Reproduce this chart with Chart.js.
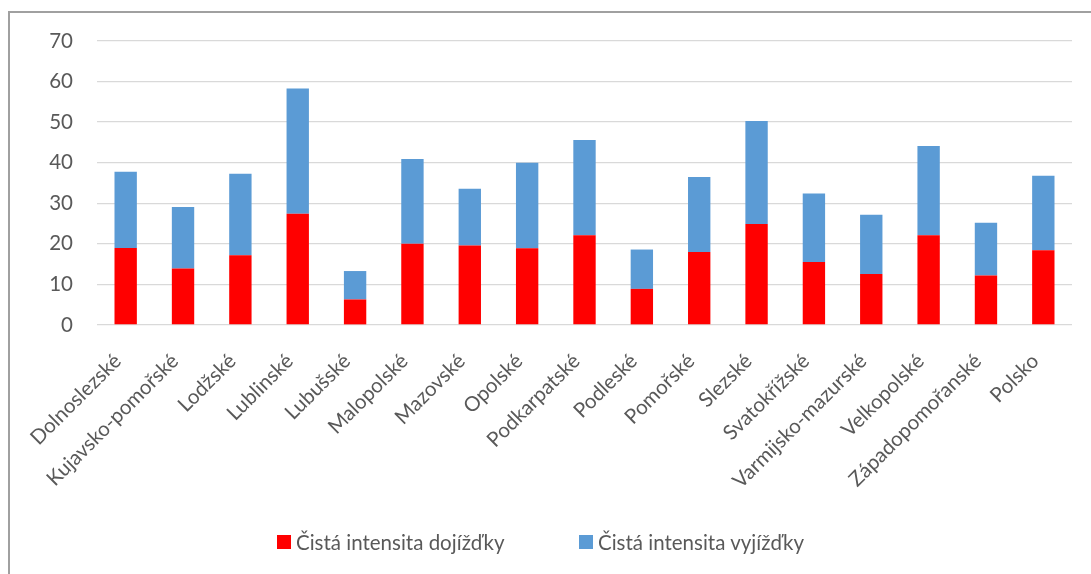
<!DOCTYPE html>
<html lang="cs">
<head>
<meta charset="utf-8">
<title>Čistá intensita dojížďky a vyjížďky</title>
<script src="https://cdn.jsdelivr.net/npm/chart.js@4.4.1/dist/chart.umd.min.js"></script>
<style>
  html, body { margin: 0; padding: 0; background: #fff; }
  #wrap { position: relative; width: 1091px; height: 574px; overflow: hidden; }
  #frame {
    position: absolute; left: 8px; top: 11px; width: 1200px; height: 700px;
    border-left: 2px solid #a0a0a0; border-top: 2px solid #a0a0a0; box-sizing: border-box;
  }
  #chart { position: absolute; left: 0; top: 0; }
  #legend {
    position: absolute; left: 0; top: 530px; width: 1091px; height: 24px;
    font-family: Lato, "Noto Sans", sans-serif; font-size: 20.5px; color: #595959;
  }
  .item { position: absolute; top: 0; white-space: nowrap; line-height: 24px; }
  .swatch { position: absolute; top: 5px; width: 14px; height: 14px; }
  .label { position: absolute; top: 0; left: 19px; }
</style>
</head>
<body>
<div id="wrap">
  <div id="frame"></div>
  <canvas id="chart" width="1091" height="574"></canvas>
  <div id="legend"></div>
</div>
<script>
// Regions (vojvodství) and Poland overall
const categories = [
  'Dolnoslezské', 'Kujavsko-pomořské', 'Lodžské', 'Lublinské', 'Lubušské',
  'Malopolské', 'Mazovské', 'Opolské', 'Podkarpatské', 'Podleské',
  'Pomořské', 'Slezské', 'Svatokřížské', 'Varmijsko-mazurské', 'Velkopolské',
  'Západopomořanské', 'Polsko'
];

// Net inbound commuting intensity (bottom segment)
const dojizdka = [19.0, 13.9, 17.2, 27.4, 6.3, 20.0, 19.6, 18.9, 22.1, 8.9, 18.0, 24.9, 15.5, 12.6, 22.1, 12.2, 18.4];

// Net outbound commuting intensity (stacked on top)
const vyjizdka = [18.8, 15.2, 20.1, 30.9, 7.0, 20.9, 14.0, 21.1, 23.5, 9.7, 18.5, 25.4, 16.9, 14.6, 22.0, 13.0, 18.4];

// Value axis ticks
const yTicks = [0, 10, 20, 30, 40, 50, 60, 70];

const seriesNames = ['Čistá intensita dojížďky', 'Čistá intensita vyjížďky'];
const seriesColors = ['#FF0000', '#5B9BD5'];

const FONT = 'Lato, "Noto Sans", sans-serif';
const TEXT = '#595959';

new Chart(document.getElementById('chart'), {
  type: 'bar',
  data: {
    labels: categories,
    datasets: [
      { label: seriesNames[0], data: dojizdka, backgroundColor: seriesColors[0], borderWidth: 0,
        barPercentage: 0.39, categoryPercentage: 1 },
      { label: seriesNames[1], data: vyjizdka, backgroundColor: seriesColors[1], borderWidth: 0,
        barPercentage: 0.39, categoryPercentage: 1 }
    ]
  },
  options: {
    responsive: false,
    animation: false,
    layout: { padding: { left: 0, top: 41, right: 19, bottom: 0 } },
    plugins: { legend: { display: false }, tooltip: { enabled: false } },
    scales: {
      x: {
        stacked: true,
        grid: { display: false, drawTicks: false },
        border: { display: false },
        ticks: {
          autoSkip: false, minRotation: 45, maxRotation: 45, padding: 24, labelOffset: -8,
          color: TEXT, font: { family: FONT, size: 20.5 }
        },
        afterFit(scale) { scale.height = 249; }
      },
      y: {
        stacked: true,
        min: yTicks[0], max: yTicks[yTicks.length - 1],
        afterBuildTicks(scale) { scale.ticks = yTicks.map(v => ({ value: v })); },
        grid: { color: '#d9d9d9', lineWidth: 1.3, drawTicks: false },
        border: { display: false },
        ticks: { padding: 24, color: TEXT, font: { family: FONT, size: 20.5 } },
        afterFit(scale) { scale.width = 97; }
      }
    }
  }
});

// Legend below the plot
const legend = document.getElementById('legend');
const legendX = [277, 579];
seriesNames.forEach((name, i) => {
  const item = document.createElement('div');
  item.className = 'item';
  item.style.left = legendX[i] + 'px';
  const sw = document.createElement('span');
  sw.className = 'swatch';
  sw.style.background = seriesColors[i];
  const tx = document.createElement('span');
  tx.className = 'label';
  tx.textContent = name;
  item.appendChild(sw);
  item.appendChild(tx);
  legend.appendChild(item);
});
</script>
</body>
</html>
